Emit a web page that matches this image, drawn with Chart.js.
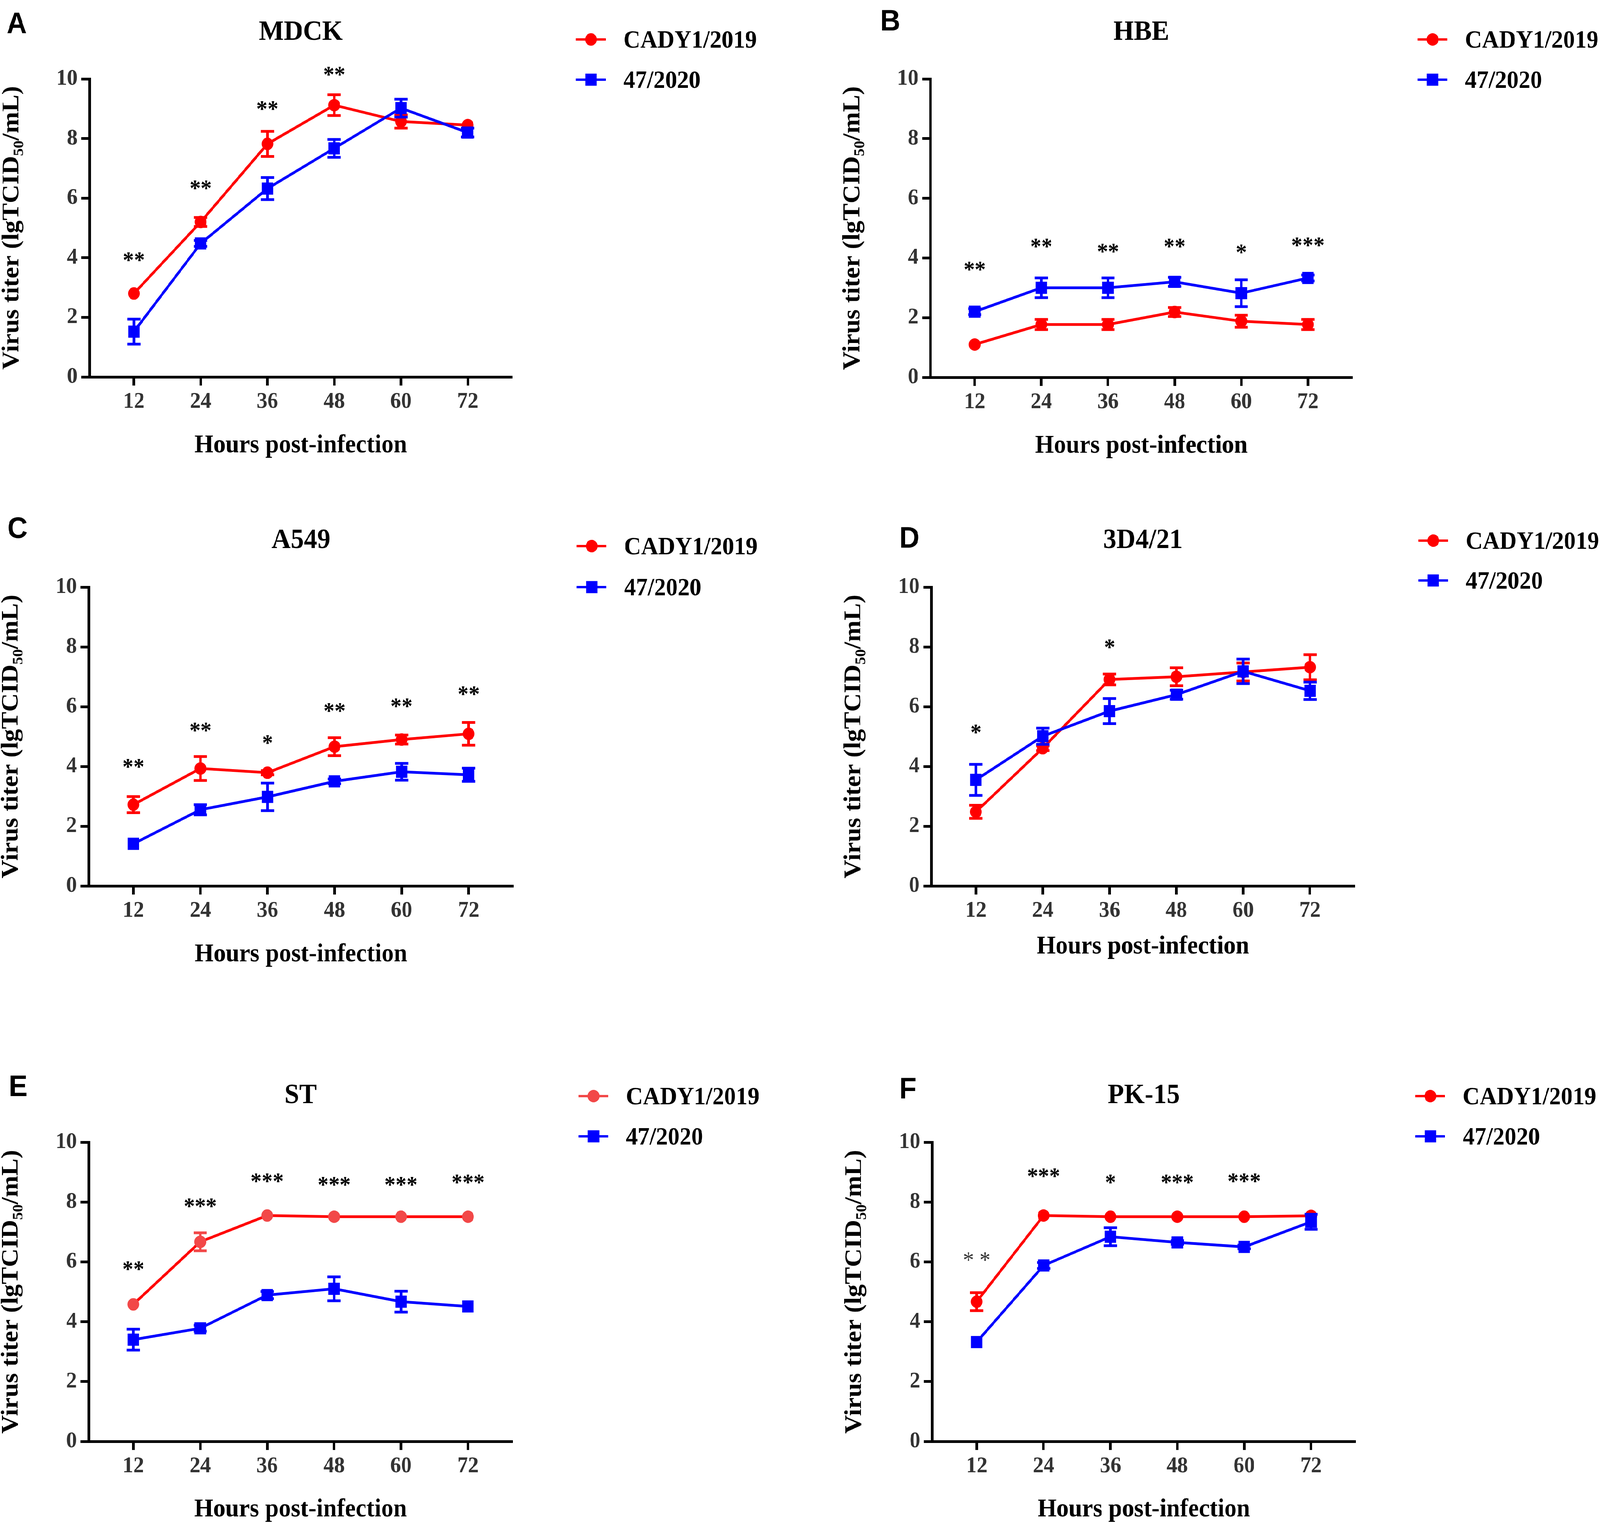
<!DOCTYPE html>
<html>
<head>
<meta charset="utf-8">
<script src="https://cdn.jsdelivr.net/npm/chart.js@4.4.1/dist/chart.umd.min.js"></script>
<style>
  html, body { margin: 0; padding: 0; background: #fff; overflow: hidden; }
  #wrap { position: relative; overflow: hidden; background: #fff; }
  #page { width: 4348px; height: 3904px; position: absolute; left: 0; top: 0; transform-origin: 0 0; background: #fff; }
  canvas { position: absolute; }
</style>
</head>
<body>
<div id="wrap"><div id="page"></div></div>
<script>
const hours = [12, 24, 36, 48, 60, 72];
const yTicks = [0, 2, 4, 6, 8, 10];
const strainNames = ['CADY1/2019', '47/2020'];
const cellLines = ['MDCK', 'HBE', 'A549', '3D4/21', 'ST', 'PK-15'];
const panelLetters = ['A', 'B', 'C', 'D', 'E', 'F'];

// MDCK
const mdckCady = [2.80, 5.20, 7.82, 9.12, 8.57, 8.45];
const mdckCadyErr = [0, 0.15, 0.42, 0.35, 0.22, 0];
const mdck47 = [1.52, 4.48, 6.32, 7.67, 9.02, 8.20];
const mdck47Err = [0.42, 0.10, 0.37, 0.30, 0.30, 0.15];
const mdckStars = ['**', '**', '**', '**', '', ''];
const mdckStarY = [4.03, 6.44, 9.10, 10.25, 0, 0];

// HBE
const hbeCady = [1.10, 1.77, 1.77, 2.19, 1.88, 1.77];
const hbeCadyErr = [0, 0.17, 0.17, 0.15, 0.20, 0.17];
const hbe47 = [2.20, 3.00, 3.00, 3.20, 2.82, 3.33];
const hbe47Err = [0.10, 0.33, 0.33, 0.15, 0.45, 0.10];
const hbeStars = ['**', '**', '**', '**', '*', '***'];
const hbeStarY = [3.72, 4.50, 4.33, 4.50, 4.30, 4.54];

// A549
const a549Cady = [2.72, 3.93, 3.79, 4.66, 4.90, 5.09];
const a549CadyErr = [0.27, 0.40, 0.07, 0.30, 0.15, 0.38];
const a54947 = [1.41, 2.55, 2.98, 3.50, 3.82, 3.72];
const a54947Err = [0, 0.17, 0.46, 0.08, 0.28, 0.22];
const a549Stars = ['**', '**', '*', '**', '**', '**'];
const a549StarY = [4.10, 5.32, 4.90, 5.97, 6.12, 6.53];

// 3D4/21
const d421Cady = [2.48, 4.61, 6.91, 7.00, 7.16, 7.32];
const d421CadyErr = [0.22, 0.08, 0.18, 0.30, 0.30, 0.42];
const d42147 = [3.55, 5.01, 5.85, 6.40, 7.18, 6.53];
const d42147Err = [0.52, 0.27, 0.42, 0.15, 0.41, 0.29];
const d421Stars = ['*', '', '*', '', '', ''];
const d421StarY = [5.25, 0, 8.10, 0, 0, 0];

// ST
const stCady = [4.58, 6.67, 7.55, 7.51, 7.51, 7.51];
const stCadyErr = [0, 0.30, 0, 0, 0, 0];
const st47 = [3.40, 3.78, 4.89, 5.10, 4.67, 4.51];
const st47Err = [0.35, 0.10, 0.12, 0.40, 0.35, 0];
const stStars = ['**', '***', '***', '***', '***', '***'];
const stStarY = [5.87, 7.97, 8.80, 8.69, 8.69, 8.76];

// PK-15
const pkCady = [4.67, 7.55, 7.51, 7.51, 7.51, 7.54];
const pkCadyErr = [0.30, 0, 0, 0, 0, 0];
const pk47 = [3.32, 5.88, 6.84, 6.65, 6.50, 7.34];
const pk47Err = [0, 0.10, 0.30, 0.06, 0.06, 0.25];
const pkStars = ['* *', '***', '*', '***', '***', ''];
const pkStarY = [6.17, 8.97, 8.76, 8.76, 8.80, 0];

const panelData = [
  { cady: mdckCady, cadyErr: mdckCadyErr, v47: mdck47, err47: mdck47Err, stars: mdckStars, starY: mdckStarY },
  { cady: hbeCady, cadyErr: hbeCadyErr, v47: hbe47, err47: hbe47Err, stars: hbeStars, starY: hbeStarY },
  { cady: a549Cady, cadyErr: a549CadyErr, v47: a54947, err47: a54947Err, stars: a549Stars, starY: a549StarY },
  { cady: d421Cady, cadyErr: d421CadyErr, v47: d42147, err47: d42147Err, stars: d421Stars, starY: d421StarY },
  { cady: stCady, cadyErr: stCadyErr, v47: st47, err47: st47Err, stars: stStars, starY: stStarY },
  { cady: pkCady, cadyErr: pkCadyErr, v47: pk47, err47: pk47Err, stars: pkStars, starY: pkStarY }
];

// page geometry of each panel (chart area in page pixels)
const boxes = [
  { left: 243, top: 202, w: 1149, h: 763, letter: [18, 85], legendX: 1565, legendY: [-101, 2], xGap: 176, red: '#ff0000' },
  { left: 2528, top: 202, w: 1147, h: 764, letter: [2392, 78], legendX: 3852, legendY: [-101, 2], xGap: 176, red: '#ff0000' },
  { left: 241, top: 1503, w: 1154, h: 765, letter: [20, 1377], legendX: 1567, legendY: [-105, 0], xGap: 176, red: '#ff0000' },
  { left: 2531, top: 1503, w: 1150, h: 765, letter: [2444, 1402], legendX: 3854, legendY: [-119, -17], xGap: 156, red: '#ff0000' },
  { left: 241, top: 2924, w: 1152, h: 766, letter: [24, 2806], legendX: 1572, legendY: [-118, -15], xGap: 175, red: '#f24848' },
  { left: 2533, top: 2924, w: 1151, h: 766, letter: [2444, 2812], legendX: 3846, legendY: [-118, -15], xGap: 175, red: '#ff0000' }
];

const BLUE = '#0000ff';
const PAGE_W = 4348, PAGE_H = 3904;
const CW = 2063, CH = 1190, AXW = 243, PADTOP = 202;
const SERIF = "'Liberation Serif', 'Times New Roman', serif";

Chart.defaults.font.family = SERIF;

// the browser reports a narrower CSS width than the 4348 px window while the
// captured height stays 3904 px, so stretch the page to that frame
const wrap = document.getElementById('wrap');
const page = document.getElementById('page');
const fitX = window.innerWidth / PAGE_W;
const fitY = 1;
wrap.style.width = (PAGE_W * fitX) + 'px';
wrap.style.height = (PAGE_H * fitY) + 'px';
page.style.transform = 'scale(' + fitX + ',' + fitY + ')';

const errorBars = {
  id: 'errorBars',
  beforeDatasetDraw(chart, args) {
    const ds = chart.data.datasets[args.index];
    if (!ds.errors) return;
    const { ctx, scales: { x, y } } = chart;
    ctx.save();
    ctx.strokeStyle = ds.errorColor;
    ctx.lineWidth = 7;
    ds.data.forEach((p, i) => {
      const e = ds.errors[i];
      if (!e) return;
      const px = x.getPixelForValue(p.x);
      const hi = y.getPixelForValue(p.y + e);
      const lo = y.getPixelForValue(p.y - e);
      ctx.beginPath();
      ctx.moveTo(px, hi); ctx.lineTo(px, lo);
      ctx.moveTo(px - 18, hi); ctx.lineTo(px + 18, hi);
      ctx.moveTo(px - 18, lo); ctx.lineTo(px + 18, lo);
      ctx.stroke();
    });
    ctx.restore();
  }
};

function makeDecor(k) {
  const box = boxes[k], pd = panelData[k];
  const ox = box.left - AXW, oy = box.top - PADTOP;
  return {
    id: 'decor' + k,
    afterDraw(chart) {
      const { ctx, chartArea, scales: { x, y } } = chart;
      ctx.save();
      ctx.fillStyle = '#000';

      // panel letter
      ctx.font = "bold 76px 'Liberation Sans', Arial, sans-serif";
      ctx.textAlign = 'left';
      ctx.textBaseline = 'alphabetic';
      ctx.fillText(panelLetters[k], box.letter[0] - ox, box.letter[1] - oy);

      // title
      ctx.font = 'bold 72px ' + SERIF;
      ctx.textAlign = 'center';
      const capT = ctx.measureText('M').actualBoundingBoxAscent;
      ctx.fillText(cellLines[k], (chartArea.left + chartArea.right) / 2, chartArea.top - 124 + capT / 2);

      // significance stars (the spaced pair in PK-15 is set lighter)
      pd.stars.forEach((s, i) => {
        if (!s) return;
        const spaced = s.indexOf(' ') >= 0;
        ctx.font = (spaced ? '' : 'bold ') + '60px ' + SERIF;
        ctx.fillStyle = spaced ? '#333' : '#000';
        const m = ctx.measureText(s);
        const cy = y.getPixelForValue(pd.starY[i]);
        ctx.fillText(s, x.getPixelForValue(hours[i]), cy + (m.actualBoundingBoxAscent - m.actualBoundingBoxDescent) / 2);
      });

      // legend
      const lx = box.legendX - ox;
      const colors = [box.red, BLUE];
      ctx.font = 'bold 64px ' + SERIF;
      ctx.textAlign = 'left';
      const capL = ctx.measureText('0').actualBoundingBoxAscent;
      strainNames.forEach((name, j) => {
        const ry = chartArea.top + box.legendY[j];
        ctx.strokeStyle = colors[j];
        ctx.fillStyle = colors[j];
        ctx.lineWidth = 6;
        ctx.beginPath();
        ctx.moveTo(lx, ry); ctx.lineTo(lx + 81, ry);
        ctx.stroke();
        ctx.beginPath();
        if (j === 0) ctx.arc(lx + 41, ry, 16, 0, Math.PI * 2);
        else ctx.rect(lx + 41 - 15.5, ry - 15.5, 31, 31);
        ctx.fill();
        ctx.fillStyle = '#000';
        ctx.fillText(name, lx + 129, ry + capL / 2);
      });
      ctx.restore();
    }
  };
}

boxes.forEach((box, k) => {
  const pd = panelData[k];
  const canvas = document.createElement('canvas');
  canvas.width = CW;
  canvas.height = CH;
  canvas.style.left = (box.left - AXW) + 'px';
  canvas.style.top = (box.top - PADTOP) + 'px';
  page.appendChild(canvas);

  const xAxisH = CH - PADTOP - box.h;

  new Chart(canvas, {
    type: 'line',
    data: {
      datasets: [
        {
          label: strainNames[1],
          data: hours.map((h, i) => ({ x: h, y: pd.v47[i] })),
          errors: pd.err47,
          errorColor: BLUE,
          borderColor: BLUE,
          backgroundColor: BLUE,
          pointBackgroundColor: BLUE,
          pointStyle: 'rect',
          pointRadius: 22,
          pointBorderWidth: 0,
          borderWidth: 7,
          tension: 0,
          clip: false,
          order: 0
        },
        {
          label: strainNames[0],
          data: hours.map((h, i) => ({ x: h, y: pd.cady[i] })),
          errors: pd.cadyErr,
          errorColor: box.red,
          borderColor: '#ff0000',
          backgroundColor: box.red,
          pointBackgroundColor: box.red,
          pointStyle: 'circle',
          pointRadius: 16,
          pointBorderWidth: 0,
          borderWidth: 7,
          tension: 0,
          clip: false,
          order: 1
        }
      ]
    },
    options: {
      responsive: false,
      animation: false,
      devicePixelRatio: 1,
      events: [],
      layout: { padding: { left: 0, top: PADTOP, right: CW - AXW - box.w, bottom: 0 } },
      plugins: { legend: { display: false }, tooltip: { enabled: false }, title: { display: false } },
      scales: {
        x: {
          type: 'linear',
          min: 4,
          max: 80,
          afterBuildTicks: s => { s.ticks = hours.map(v => ({ value: v })); },
          afterFit: s => { s.height = xAxisH; },
          grid: { drawOnChartArea: false, drawTicks: true, tickLength: 22, tickWidth: 7, tickColor: '#000' },
          border: { display: true, width: 7, color: '#000' },
          ticks: { font: { size: 58, weight: 'bold', lineHeight: 1.2 }, color: '#333', padding: 7, maxRotation: 0, autoSkip: false },
          title: {
            display: true,
            text: 'Hours post-infection',
            color: '#000',
            font: { size: 66, weight: 'bold', lineHeight: 1.2 },
            padding: { top: 0, bottom: xAxisH - box.xGap - 39.6 }
          }
        },
        y: {
          min: 0,
          max: 10,
          afterBuildTicks: s => { s.ticks = yTicks.map(v => ({ value: v })); },
          afterFit: s => { s.width = AXW; },
          grid: { drawOnChartArea: false, drawTicks: true, tickLength: 22, tickWidth: 7, tickColor: '#000' },
          border: { display: true, width: 7, color: '#000' },
          ticks: { font: { size: 58, weight: 'bold' }, color: '#333', padding: 10 },
          title: {
            display: true,
            text: 'Virus titer (lgTCID₅₀/mL)',
            color: '#000',
            font: { size: 66, weight: 'bold', lineHeight: 1 },
            padding: { top: 0, bottom: 0 }
          }
        }
      }
    },
    plugins: [errorBars, makeDecor(k)]
  });
});
</script>
</body>
</html>
